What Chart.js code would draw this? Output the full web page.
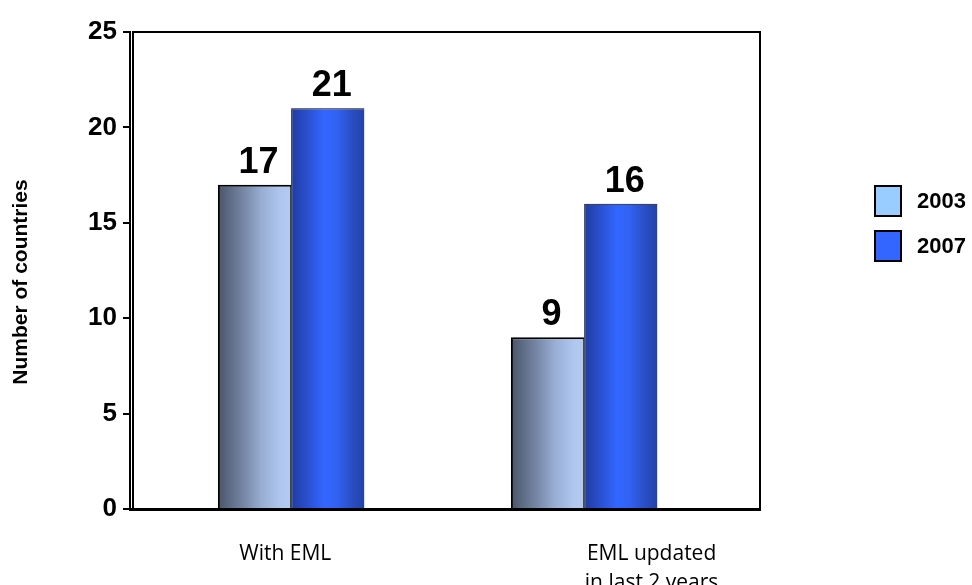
<!DOCTYPE html>
<html>
<head>
<meta charset="utf-8">
<title>Countries with an EML</title>
<script src="https://cdn.jsdelivr.net/npm/chart.js@4.4.0/dist/chart.umd.min.js"></script>
<style>
  html, body { margin: 0; padding: 0; background: #fff; }
  #wrap { width: 972px; height: 585px; position: relative; }
</style>
</head>
<body>
<div id="wrap"><canvas id="eml-chart"></canvas></div>
<script>
// Data
const categories = [['With EML'], ['EML updated', 'in last 2 years']];
const years = ['2003', '2007'];
const values2003 = [17, 9];
const values2007 = [21, 16];
const yTicks = [0, 5, 10, 15, 20, 25];
const yTitle = 'Number of countries';

// Legend swatch colours and per-bar horizontal shading
const swatchColors = ['#99ccff', '#3366ff'];
const shadeStops = [
    [[0, '#4b5569'], [0.3, '#6f7f9c'], [0.6, '#98aed3'], [0.85, '#afc6ee'], [1, '#b3cbf1']],
    [[0, '#1f3c9c'], [0.15, '#2849c0'], [0.45, '#3366ff'], [0.62, '#3162f3'], [0.85, '#2a4cc0'], [1, '#2243a8']]
];

const FONT = '"Liberation Sans", Arial, sans-serif';

// bars sit on a numeric index axis so the two groups can be spaced freely
const toPoints = (values) => values.map((v, i) => ({ x: i, y: v }));

// Fill each bar with its horizontal gradient once the bars have been laid out
const barShading = {
    id: 'barShading',
    beforeDatasetsDraw(chart) {
        const ctx = chart.ctx;
        chart.data.datasets.forEach((ds, i) => {
            chart.getDatasetMeta(i).data.forEach(bar => {
                const left = bar.x - bar.width / 2;
                const g = ctx.createLinearGradient(left, 0, left + bar.width, 0);
                shadeStops[i].forEach(([p, c]) => g.addColorStop(p, c));
                bar.options.backgroundColor = g;
            });
        });
    }
};

// Box around the plot area
const plotFrame = {
    id: 'plotFrame',
    beforeDatasetsDraw(chart) {
        const { ctx, chartArea: a } = chart;
        ctx.save();
        ctx.strokeStyle = '#000';
        ctx.lineWidth = 2;
        ctx.beginPath();
        ctx.moveTo(a.left + 3, a.bottom);
        ctx.lineTo(a.left + 3, a.top);
        ctx.lineTo(a.right, a.top);
        ctx.lineTo(a.right, a.bottom);
        ctx.stroke();
        ctx.restore();
    }
};

// Value labels above the bars
const valueLabels = {
    id: 'valueLabels',
    afterDatasetsDraw(chart) {
        const ctx = chart.ctx;
        ctx.save();
        ctx.fillStyle = '#000';
        ctx.font = 'bold 36px ' + FONT;
        ctx.textAlign = 'center';
        ctx.textBaseline = 'bottom';
        chart.data.datasets.forEach((ds, i) => {
            chart.getDatasetMeta(i).data.forEach((bar, j) => {
                ctx.fillText(String(ds.data[j].y), bar.x + 4, bar.y - 4);
            });
        });
        ctx.restore();
    }
};

// Y title and the legend on the right
const sideText = {
    id: 'sideText',
    afterDraw(chart) {
        const ctx = chart.ctx;
        ctx.save();
        ctx.fillStyle = '#000';
        ctx.font = 'bold 21px ' + FONT;
        ctx.textAlign = 'center';
        ctx.textBaseline = 'middle';
        ctx.translate(21, 282);
        ctx.rotate(-Math.PI / 2);
        ctx.fillText(yTitle, 0, 0);
        ctx.restore();

        ctx.save();
        ctx.font = 'bold 22px ' + FONT;
        ctx.textBaseline = 'middle';
        years.forEach((yr, i) => {
            const y = 186 + i * 45;
            ctx.fillStyle = swatchColors[i];
            ctx.fillRect(875, y, 26, 30);
            ctx.strokeStyle = '#000';
            ctx.lineWidth = 2;
            ctx.strokeRect(875, y, 26, 30);
            ctx.fillStyle = '#000';
            ctx.fillText(yr, 917, y + 16);
        });
        ctx.restore();
    }
};

new Chart(document.getElementById('eml-chart'), {
    type: 'bar',
    data: {
        datasets: [
            {
                label: years[0],
                data: toPoints(values2003),
                backgroundColor: (c) => swatchColors[c.datasetIndex],
                borderColor: '#000',
                borderWidth: { top: 2, left: 2, right: 1, bottom: 0 },
                borderSkipped: false
            },
            {
                label: years[1],
                data: toPoints(values2007),
                backgroundColor: (c) => swatchColors[c.datasetIndex],
                borderColor: '#000',
                borderWidth: { top: 1, left: 1, right: 0, bottom: 0 },
                borderSkipped: false
            }
        ]
    },
    options: {
        responsive: true,
        maintainAspectRatio: false,
        animation: false,
        layout: { padding: { top: 32, right: 212, left: 0, bottom: 0 } },
        datasets: {
            bar: { categoryPercentage: 0.5, barPercentage: 1 }
        },
        plugins: {
            legend: { display: false },
            tooltip: { enabled: false }
        },
        scales: {
            x: {
                type: 'linear',
                offset: false,
                bounds: 'data',
                min: -0.55,
                max: 1.6,
                afterBuildTicks: (scale) => { scale.ticks = [{ value: -0.02 }, { value: 1.23 }]; },
                grid: { display: false },
                border: { display: true, color: '#000', width: 3 },
                ticks: {
                    color: '#000',
                    padding: 22,
                    maxRotation: 0,
                    callback: (value, index) => categories[index],
                    font: { family: '"Open Sans", sans-serif', size: 21, lineHeight: 1.4 }
                },
                afterFit: (scale) => { scale.height = 76; }
            },
            y: {
                min: 0,
                max: 25,
                afterBuildTicks: (scale) => { scale.ticks = yTicks.map(v => ({ value: v })); },
                grid: {
                    drawOnChartArea: false,
                    drawTicks: true,
                    tickLength: 7,
                    color: '#000',
                    lineWidth: 2
                },
                border: { display: true, color: '#000', width: 2 },
                ticks: {
                    color: '#000',
                    padding: 6,
                    font: { family: FONT, size: 26, weight: 'bold' }
                },
                afterFit: (scale) => { scale.width = 130; }
            }
        }
    },
    plugins: [barShading, plotFrame, valueLabels, sideText]
});
</script>
</body>
</html>
